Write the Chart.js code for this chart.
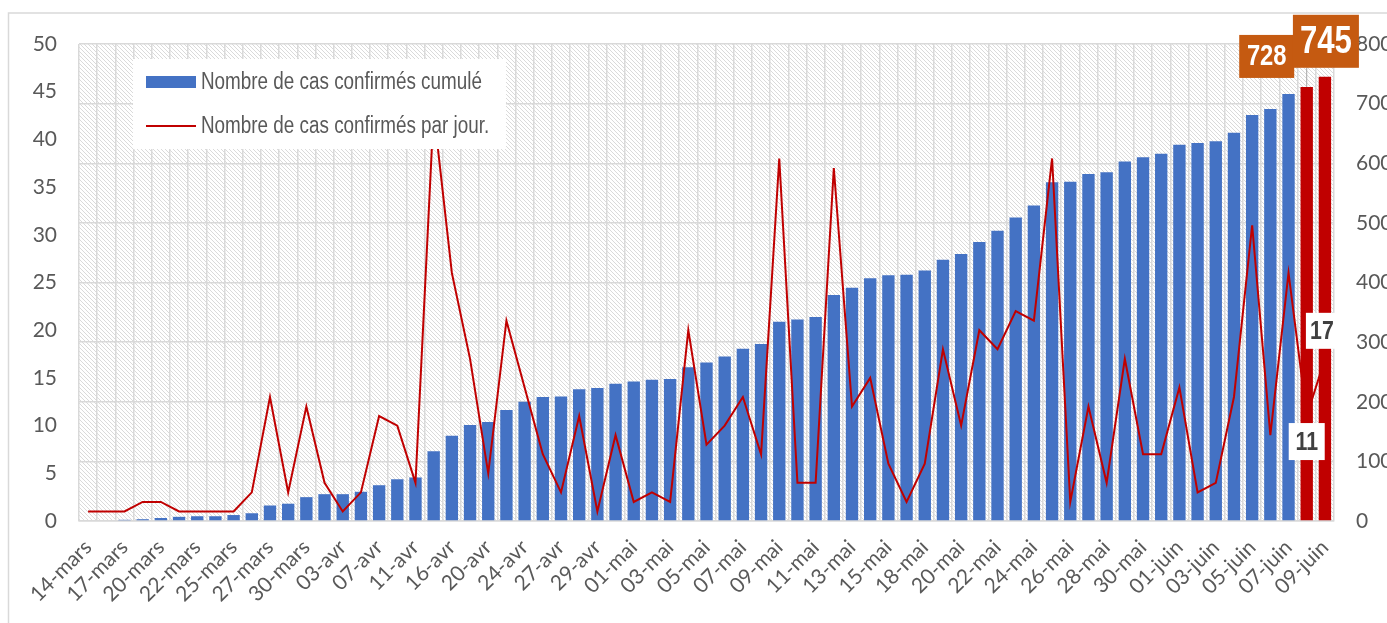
<!DOCTYPE html>
<html lang="fr">
<head>
<meta charset="utf-8">
<title>Cas confirmés</title>
<script src="https://cdn.jsdelivr.net/npm/chart.js"></script>
<style>
  html, body { margin: 0; padding: 0; background: #fff; overflow: hidden; }
  #wrap { position: relative; width: 1387px; height: 623px; }
</style>
</head>
<body>
<div id="wrap"><canvas id="casChart" width="1387" height="623"></canvas></div>
<script>
// --- Data ---
const dates = ['14-mars', '16-mars', '17-mars', '19-mars', '20-mars', '21-mars', '22-mars', '24-mars', '25-mars', '26-mars',
    '27-mars', '28-mars', '30-mars', '01-avr', '03-avr', '05-avr', '07-avr', '09-avr', '11-avr', '14-avr',
    '16-avr', '18-avr', '20-avr', '22-avr', '24-avr', '25-avr', '27-avr', '28-avr', '29-avr', '30-avr',
    '01-mai', '02-mai', '03-mai', '04-mai', '05-mai', '06-mai', '07-mai', '08-mai', '09-mai', '10-mai',
    '11-mai', '12-mai', '13-mai', '14-mai', '15-mai', '16-mai', '18-mai', '19-mai', '20-mai', '21-mai',
    '22-mai', '23-mai', '24-mai', '25-mai', '26-mai', '27-mai', '28-mai', '29-mai', '30-mai', '31-mai',
    '01-juin', '02-juin', '03-juin', '04-juin', '05-juin', '06-juin', '07-juin', '08-juin', '09-juin'];

// cumulative confirmed cases (right axis)
const cumul = [0, 0, 2, 3, 5, 7, 8, 8, 10, 13,
    26, 29, 40, 45, 45, 49, 60, 70, 73, 117,
    143, 161, 166, 186, 200, 208, 209, 221, 223, 230,
    234, 237, 238, 258, 266, 276, 289, 297, 334, 338,
    342, 379, 391, 407, 412, 413, 420, 438, 448, 468,
    487, 509, 529, 568, 569, 582, 585, 603, 610, 616,
    631, 634, 637, 651, 681, 691, 716, 728, 745];

// confirmed cases per day (left axis)
const daily = [1, 1, 1, 2, 2, 1, 1, 1, 1, 3,
    13, 3, 12, 4, 1, 3, 11, 10, 4, 43,
    26, 17, 5, 21, 14, 7, 3, 11, 1, 9,
    2, 3, 2, 20, 8, 10, 13, 7, 38, 4,
    4, 37, 12, 15, 6, 2, 6, 18, 10, 20,
    18, 22, 21, 38, 2, 12, 4, 17, 7, 7,
    14, 3, 4, 13, 31, 9, 26, 11, 17];

const seriesNames = ['Nombre de cas confirmés cumulé', 'Nombre de cas confirmés par jour.'];

// --- Styles ---
const BLUE = '#4472C4';
const RED = '#C00000';
const ORANGE = '#C55A11';
const GRID = '#d9d9d9';
const AXIS_TXT = '#595959';
const SANS = "'Liberation Sans', Arial, sans-serif";
const SQUEEZE = 0.82; // fake a narrow face (no Arial Narrow offline)

const lastTwo = cumul.length - 2;
const barColors = cumul.map((v, i) => i >= lastTwo ? RED : BLUE);

// draw text squeezed horizontally
function narrowText(ctx, txt, x, y, align) {
    ctx.save();
    ctx.translate(x, y);
    ctx.scale(SQUEEZE, 1);
    ctx.textAlign = align;
    ctx.fillText(txt, 0, 0);
    ctx.restore();
}

// hatched plot background + outer frame
const backdrop = {
    id: 'backdrop',
    beforeDraw(chart) {
        const { ctx, chartArea } = chart;
        const tile = document.createElement('canvas');
        tile.width = 4; tile.height = 4;
        const g = tile.getContext('2d');
        g.fillStyle = '#ffffff';
        g.fillRect(0, 0, 4, 4);
        g.strokeStyle = '#dadada';
        g.lineWidth = 1;
        g.beginPath();
        g.moveTo(-1, -1); g.lineTo(5, 5);
        g.moveTo(-1, 3); g.lineTo(1, 5);
        g.moveTo(3, -1); g.lineTo(5, 1);
        g.stroke();
        ctx.save();
        ctx.strokeStyle = GRID;
        ctx.lineWidth = 1.5;
        ctx.strokeRect(8.5, 13, 1400, 700);
        ctx.fillStyle = ctx.createPattern(tile, 'repeat');
        ctx.fillRect(chartArea.left, chartArea.top, chartArea.right - chartArea.left, chartArea.bottom - chartArea.top);
        ctx.restore();
    }
};

// legend box sitting on top of the plot area
const legendBox = {
    id: 'legendBox',
    afterDatasetsDraw(chart) {
        const { ctx, chartArea } = chart;
        const x = chartArea.left + 54, y = chartArea.top + 15;
        ctx.save();
        ctx.fillStyle = '#ffffff';
        ctx.fillRect(x, y, 373, 90);
        ctx.font = '23px ' + SANS;
        ctx.textBaseline = 'middle';
        // bar swatch
        ctx.fillStyle = BLUE;
        ctx.fillRect(x + 13, y + 17, 50, 12);
        ctx.fillStyle = AXIS_TXT;
        narrowText(ctx, chart.data.datasets[0].label, x + 68, y + 24, 'left');
        // line swatch
        ctx.strokeStyle = RED;
        ctx.lineWidth = 2;
        ctx.beginPath();
        ctx.moveTo(x + 13, y + 67);
        ctx.lineTo(x + 63, y + 67);
        ctx.stroke();
        narrowText(ctx, chart.data.datasets[1].label, x + 68, y + 68, 'left');
        ctx.restore();
    }
};

// data labels on the last two days
const lastLabels = {
    id: 'lastLabels',
    afterDraw(chart) {
        const { ctx } = chart;
        const bars = chart.getDatasetMeta(0).data;
        const pts = chart.getDatasetMeta(1).data;
        const i1 = lastTwo, i2 = lastTwo + 1;

        function box(cx, top, w, h, fill, txt, color, size) {
            ctx.fillStyle = fill;
            ctx.fillRect(cx - w / 2, top, w, h);
            ctx.fillStyle = color;
            ctx.font = 'bold ' + size + 'px ' + SANS;
            ctx.textBaseline = 'middle';
            narrowText(ctx, txt, cx, top + h / 2 + 1, 'center');
        }

        ctx.save();
        // leader line from the big label to the bar
        ctx.strokeStyle = '#a6a6a6';
        ctx.lineWidth = 1;
        ctx.beginPath();
        ctx.moveTo(bars[i1].x, bars[i2].y - 9);
        ctx.lineTo(bars[i1].x, bars[i1].y);
        ctx.stroke();

        box(bars[i1].x - 40, bars[i1].y - 52, 55, 43, ORANGE, String(cumul[i1]), '#ffffff', 29);
        box(bars[i2].x + 1, bars[i2].y - 62, 66, 53, ORANGE, String(cumul[i2]), '#ffffff', 38);
        box(pts[i1].x, pts[i1].y + 7, 36, 37, '#ffffff', String(daily[i1]), '#404040', 26);
        box(pts[i2].x - 3, pts[i2].y - 46, 32, 36, '#ffffff', String(daily[i2]), '#404040', 26);
        ctx.restore();
    }
};

const ctx = document.getElementById('casChart');
new Chart(ctx, {
    type: 'bar',
    data: {
        labels: dates,
        datasets: [
            {
                type: 'bar',
                label: seriesNames[0],
                data: cumul,
                yAxisID: 'y1',
                backgroundColor: barColors,
                borderWidth: 0,
                categoryPercentage: 1,
                barPercentage: 0.68,
                order: 2
            },
            {
                type: 'line',
                label: seriesNames[1],
                data: daily,
                yAxisID: 'y',
                borderColor: RED,
                backgroundColor: RED,
                borderWidth: 2,
                pointRadius: 0,
                tension: 0,
                order: 1
            }
        ]
    },
    options: {
        responsive: false,
        animation: false,
        layout: { padding: { top: 44, left: 0, right: 0, bottom: 0 } },
        plugins: {
            legend: { display: false },
            tooltip: { enabled: false }
        },
        scales: {
            x: {
                offset: true,
                grid: { display: true, offset: true, color: GRID, lineWidth: 1.5, drawTicks: false },
                border: { color: GRID, width: 1.5 },
                ticks: {
                    autoSkip: false,
                    maxRotation: 45,
                    minRotation: 45,
                    padding: 14,
                    color: AXIS_TXT,
                    font: { family: 'Lato', size: 21 },
                    callback: function(value, index) { return index % 2 === 0 ? this.getLabelForValue(value) : ''; }
                },
                afterFit: (s) => { s.height = 102; s.paddingLeft = 0; s.paddingRight = 0; }
            },
            y: {
                position: 'left',
                min: 0,
                max: 50,
                grid: { display: false, drawTicks: false },
                border: { display: false },
                ticks: { stepSize: 5, padding: 22, color: AXIS_TXT, font: { family: 'Lato', size: 21 } },
                afterFit: (s) => { s.width = 79; }
            },
            y1: {
                position: 'right',
                min: 0,
                max: 800,
                grid: { display: true, color: GRID, lineWidth: 1.5, drawTicks: false },
                border: { display: false },
                ticks: { stepSize: 100, padding: 22, color: AXIS_TXT, font: { family: 'Lato', size: 21 } },
                afterFit: (s) => { s.width = 53; }
            }
        }
    },
    plugins: [backdrop, legendBox, lastLabels]
});
</script>
</body>
</html>
